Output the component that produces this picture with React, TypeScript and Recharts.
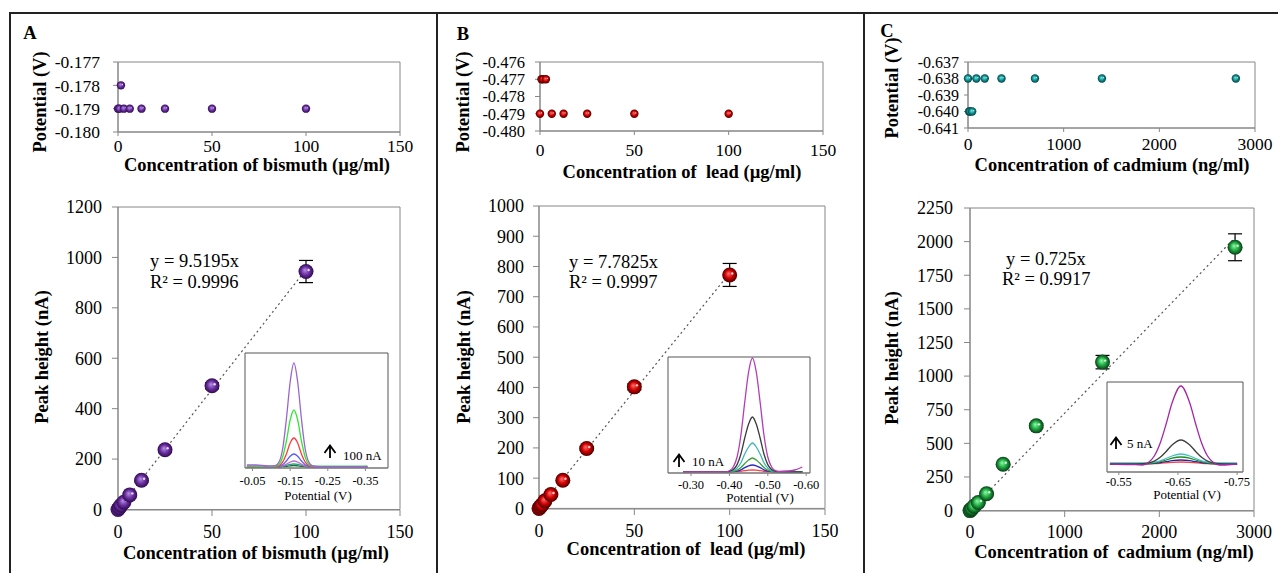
import React from "react";
import {
  ScatterChart,
  Scatter,
  XAxis,
  YAxis,
  ErrorBar,
  ReferenceLine,
  ReferenceArea,
  LineChart,
  Line,
} from "recharts";

const FONT = '"Liberation Serif", "Times New Roman", serif';
const AXIS = "#868686";

// ---- bismuth (A)
const biConc = [0, 0.78, 1.56, 3.125, 6.25, 12.5, 25, 50, 100];
const biPeak = [0, 8, 17, 29, 58, 116, 237, 491, 944];
const biErr = [2, 2, 3, 4, 5, 6, 8, 12, 44];
const biPot = [-0.179, -0.179, -0.178, -0.179, -0.179, -0.179, -0.179, -0.179, -0.179];
const biTrend = [[0, 0], [100, 952]];

// ---- lead (B)
const pbConc = [0, 0.78, 1.56, 3.125, 6.25, 12.5, 25, 50, 100];
const pbPeak = [0, 6, 12, 25, 46, 93, 198, 402, 772];
const pbErr = [2, 2, 3, 3, 4, 5, 6, 10, 38];
const pbPot = [-0.479, -0.477, -0.477, -0.477, -0.479, -0.479, -0.479, -0.479, -0.479];
const pbTrend = [[0, 0], [100, 778]];

// ---- cadmium (C)
const cdConc = [0, 10.9, 21.9, 43.75, 87.5, 175, 350, 700, 1400, 2800];
const cdPeak = [0, 8, 16, 32, 60, 125, 345, 630, 1104, 1958];
const cdErr = [3, 3, 4, 5, 6, 8, 10, 15, 50, 100];
const cdPot = [-0.638, -0.64, -0.64, -0.64, -0.638, -0.638, -0.638, -0.638, -0.638, -0.638];
const cdTrend = [[0, 0], [2800, 2030]];

// ---- inset voltammograms (A)
const aPot = [-0.035, -0.06, -0.09, -0.11, -0.12, -0.13, -0.14, -0.15, -0.16, -0.17, -0.18, -0.19, -0.2, -0.21, -0.23, -0.27, -0.31, -0.355];
const a1 = [2, 2, 1, 1.3, 4.6, 18, 48, 85, 104, 85, 48, 18, 4.6, 1, 0.4, 0.3, 0.3, 0.3];
const a2 = [0.8, 0.8, 0.6, 0.8, 2.5, 10, 26, 47, 57, 47, 26, 10, 2.5, 0.8, 0.5, 0.5, 0.5, 0.8];
const a3 = [0.3, 0.3, 0.3, 0.3, 1.3, 4.9, 13, 24, 29, 24, 13, 4.9, 1.3, 0.3, 0.3, 0.3, 0.3, 0.3];
const a4 = [0, 0, 0, 0, 0.6, 2.2, 6, 10.7, 13, 10.7, 6, 2.2, 0.6, 0, 0, 0, 0, 0];
const a5 = [0, 0, 0, 0, 0.3, 1, 2.8, 4.9, 6, 4.9, 2.8, 1, 0.3, 0, 0, 0, 0, 0];
const a6 = [0.5, 0.5, 0.5, 0.5, 0.6, 0.9, 1.7, 2.6, 3, 2.6, 1.7, 0.9, 0.6, 0.5, 0.5, 0.5, 0.5, 0.5];
const a7 = [0, 0, 0, 0, 0, 0.3, 0.7, 1.2, 1.5, 1.2, 0.7, 0.3, 0, 0, 0, 0, 0, 0];
const aColors = ["#9966cc", "#33e633", "#ff3b3b", "#5a5aff", "#c070c0", "#20a0a0", "#207020"];

// ---- inset voltammograms (B)
const bPot = [-0.28, -0.32, -0.36, -0.39, -0.4, -0.41, -0.42, -0.43, -0.44, -0.45, -0.46, -0.47, -0.48, -0.49, -0.5, -0.51, -0.52, -0.53, -0.55, -0.57, -0.59];
const b1 = [0, 0, 0, 0.2, 1.3, 5, 15, 37, 70, 100, 114, 100, 70, 37, 15, 5, 1.3, 0.5, 1, 2, 5];
const b2 = [0, 0, 0, 0, 0.6, 2.4, 7.4, 18, 34, 48, 55, 48, 34, 18, 7.4, 2.4, 0.6, 0, 0, 0, 0];
const b3 = [0, 0, 0, 0, 0.3, 1.3, 3.9, 9.3, 18, 25, 29, 25, 18, 9.3, 3.9, 1.3, 0.3, 0, 0, 0, 0];
const b4 = [0, 0, 0, 0, 0.2, 0.6, 1.9, 4.5, 8.5, 12, 14, 12, 8.5, 4.5, 1.9, 0.6, 0.2, 0, 0, 0, 0];
const b5 = [0, 0, 0, 0, 0.1, 0.3, 0.9, 2.2, 4.3, 6.2, 7, 6.2, 4.3, 2.2, 0.9, 0.3, 0.1, 0, 0, 0, 0];
const b6 = [0, 0, 0, 0, 0, 0.1, 0.3, 0.7, 1.3, 1.8, 2, 1.8, 1.3, 0.7, 0.3, 0.1, 0, 0, 0, 0, 0];
const bColors = ["#b43cb4", "#3a3a3a", "#3cb4b4", "#3ca03c", "#2828c8", "#ff4040"];

// ---- inset voltammograms (C)
const cPot = [-0.535, -0.57, -0.59, -0.6, -0.61, -0.62, -0.63, -0.64, -0.655, -0.67, -0.68, -0.69, -0.7, -0.71, -0.72, -0.74, -0.75];
const c1 = [0, -0.5, -1, 1.5, 8, 21, 40, 61, 78, 61, 40, 21, 8, 1.5, -1, -0.5, 0];
const c2 = [0, 0, 0.3, 1, 2.9, 6.7, 12.5, 19, 24, 19, 12.5, 6.7, 2.9, 1, 0.3, 0, 0];
const c3 = [1, 1, 1, 1.2, 1.8, 3.2, 5.5, 8, 10, 8, 5.5, 3.2, 1.8, 1.2, 1, 1, 1];
const c4 = [0, 0, 0.2, 0.5, 1.2, 2.4, 4, 5.8, 7, 5.8, 4, 2.4, 1.2, 0.5, 0.2, 0, 0];
const c5 = [0, 0, 0.1, 0.3, 0.7, 1.4, 2.3, 3.3, 4, 3.3, 2.3, 1.4, 0.7, 0.3, 0.1, 0, 0];
const c6 = [0, 0, 0, 0.1, 0.3, 0.7, 1.2, 1.7, 2, 1.7, 1.2, 0.7, 0.3, 0.1, 0, 0, 0];
const cColors = ["#a428a4", "#404040", "#40c0c0", "#208a20", "#2828a0", "#ff4040"];

type Box = { x0: number; x1: number; y0: number; y1: number };
const TOP = 12;
const RIGHT = 26;

const zip = (xs: number[], ys: number[], es?: number[]) =>
  xs.map((x, i) => ({ x, y: ys[i], err: es ? es[i] : 0 }));

const curves = (pot: number[], series: number[][]) =>
  pot.map((v, i) => {
    const row: Record<string, number> = { v };
    series.forEach((s, k) => (row["s" + k] = s[i]));
    return row;
  });

function Sphere({ cx, cy, r, grad }: any) {
  if (cx == null || cy == null) return null;
  return (
    <g>
      <circle cx={cx} cy={cy} r={r} fill={`url(#${grad})`} />
      <circle cx={cx + r * 0.35} cy={cy - r * 0.2} r={r * 0.16} fill="#fff" opacity={0.8} />
    </g>
  );
}

function Grad({ id, c }: { id: string; c: string[] }) {
  return (
    <radialGradient id={id} cx="50%" cy="50%" r="50%" fx="42%" fy="40%">
      <stop offset="0%" stopColor={c[0]} />
      <stop offset="55%" stopColor={c[1]} />
      <stop offset="100%" stopColor={c[2]} />
    </radialGradient>
  );
}

function TopChart(props: {
  b: Box; data: any[]; xDomain: number[]; xTicks: number[]; yDomain: number[]; yTicks: number[];
  ySize: number[]; xSize: number[]; grad: string; colors: string[]; yFont?: number;
}) {
  const { b, data, xDomain, xTicks, yDomain, yTicks, ySize, xSize, grad, colors, yFont = 17.5 } = props;
  const yw = 80, xh = 30;
  const tick = { fontFamily: FONT, fontSize: 17.5, fill: "#000" };
  return (
    <div style={{ position: "absolute", left: b.x0 - yw, top: b.y0 - TOP }}>
      <ScatterChart width={b.x1 - b.x0 + yw + RIGHT} height={b.y1 - b.y0 + TOP + xh}
        margin={{ top: TOP, right: RIGHT, left: 0, bottom: 0 }}>
        <defs><Grad id={grad} c={colors} /></defs>
        <XAxis type="number" dataKey="x" domain={xDomain} ticks={xTicks} interval={0} height={xh}
          stroke={AXIS} tick={tick} tickSize={xSize[0]} tickMargin={xSize[1]} />
        <YAxis type="number" dataKey="y" domain={yDomain} ticks={yTicks} interval={0} width={yw}
          stroke={AXIS} tick={{ ...tick, fontSize: yFont }} tickSize={ySize[0]} tickMargin={ySize[1]}
          tickFormatter={(v: number) => v.toFixed(3)} />
        <ReferenceArea x1={xDomain[0]} x2={xDomain[1]} y1={yDomain[0]} y2={yDomain[1]}
          fill="none" stroke={AXIS} strokeOpacity={1} />
        <Scatter data={data} isAnimationActive={false}
          shape={(s: any) => <Sphere cx={s.cx} cy={s.cy} r={4.2} grad={grad} />} />
      </ScatterChart>
    </div>
  );
}

function MainChart(props: {
  b: Box; data: any[]; trend: number[][]; xDomain: number[]; xTicks: number[]; yDomain: number[]; yTicks: number[];
  ySize: number[]; xSize: number[]; grad: string; colors: string[];
}) {
  const { b, data, trend, xDomain, xTicks, yDomain, yTicks, ySize, xSize, grad, colors } = props;
  const yw = 70, xh = 36;
  const tick = { fontFamily: FONT, fontSize: 18, fill: "#000" };
  return (
    <div style={{ position: "absolute", left: b.x0 - yw, top: b.y0 - TOP }}>
      <ScatterChart width={b.x1 - b.x0 + yw + RIGHT} height={b.y1 - b.y0 + TOP + xh}
        margin={{ top: TOP, right: RIGHT, left: 0, bottom: 0 }}>
        <defs><Grad id={grad} c={colors} /></defs>
        <XAxis type="number" dataKey="x" domain={xDomain} ticks={xTicks} interval={0} height={xh}
          stroke={AXIS} tick={tick} tickSize={xSize[0]} tickMargin={xSize[1]} />
        <YAxis type="number" dataKey="y" domain={yDomain} ticks={yTicks} interval={0} width={yw}
          stroke={AXIS} tick={tick} tickSize={ySize[0]} tickMargin={ySize[1]} />
        <ReferenceArea x1={xDomain[0]} x2={xDomain[1]} y1={yDomain[0]} y2={yDomain[1]}
          fill="none" stroke={AXIS} strokeOpacity={1} />
        <ReferenceLine segment={[{ x: trend[0][0], y: trend[0][1] }, { x: trend[1][0], y: trend[1][1] }]}
          stroke="#555" strokeWidth={1.2} strokeDasharray="2 3" />
        <Scatter data={data} isAnimationActive={false}
          shape={(s: any) => <Sphere cx={s.cx} cy={s.cy} r={7.5} grad={grad} />}>
          <ErrorBar dataKey="err" direction="y" width={7} stroke="#000" strokeWidth={1.2} isAnimationActive={false} />
        </Scatter>
      </ScatterChart>
    </div>
  );
}

function Inset(props: {
  b: Box; data: any[]; colors: string[]; xDomain: number[]; xTicks: number[]; yDomain: number[]; xSize: number[];
}) {
  const { b, data, colors, xDomain, xTicks, yDomain, xSize } = props;
  const xh = 20, side = 18, top = 4;
  const tick = { fontFamily: FONT, fontSize: 12.5, fill: "#000" };
  return (
    <div style={{ position: "absolute", left: b.x0 - side, top: b.y0 - top }}>
      <LineChart width={b.x1 - b.x0 + 2 * side} height={b.y1 - b.y0 + top + xh} data={data}
        margin={{ top, right: side, left: side, bottom: 0 }}>
        <XAxis type="number" dataKey="v" domain={xDomain} reversed ticks={xTicks} interval={0} height={xh}
          stroke={AXIS} tick={tick} tickSize={xSize[0]} tickMargin={xSize[1]}
          tickFormatter={(v: number) => v.toFixed(2)} />
        <YAxis hide type="number" domain={yDomain} allowDataOverflow />
        <ReferenceArea x1={xDomain[0]} x2={xDomain[1]} y1={yDomain[0]} y2={yDomain[1]}
          fill="#fff" fillOpacity={1} stroke="#555" strokeOpacity={1} />
        {colors.map((c, k) => colors.length - 1 - k).map((k) => (
          <Line key={k} type="monotone" dataKey={"s" + k} stroke={colors[k]} strokeWidth={1.3}
            dot={false} isAnimationActive={false} />
        ))}
      </LineChart>
    </div>
  );
}

function T({ x, y, children, size = 18.5, bold = false, rotate = false, start = false }: any) {
  const tr = rotate
    ? "translate(-50%,-50%) rotate(-90deg)"
    : start ? "translate(0,-50%)" : "translate(-50%,-50%)";
  return (
    <div style={{
      position: "absolute", left: x, top: y, transform: tr, whiteSpace: "pre", lineHeight: 1,
      fontFamily: FONT, fontSize: size, fontWeight: bold ? 700 : 400, color: "#000",
    }}>{children}</div>
  );
}

function Arrow({ x, y1, y2 }: { x: number; y1: number; y2: number }) {
  const h = y2 - y1;
  return (
    <svg style={{ position: "absolute", left: x - 7, top: y1 - 1 }} width={14} height={h + 2}>
      <path d={`M7 ${h + 1} V2 M1.5 9 L7 1.5 L12.5 9`} stroke="#000" strokeWidth={1.8} fill="none" />
    </svg>
  );
}

const Rule = ({ l, t, w, h }: any) => (
  <div style={{ position: "absolute", left: l, top: t, width: w, height: h, background: "#222" }} />
);

export default function App() {
  const gA = ["#b690e6", "#6a2fa0", "#2e0a4f"];
  const gB = ["#ff7070", "#d00000", "#4a0000"];
  const gC = ["#8affa8", "#1fa640", "#083a16"];
  const gCt = ["#70e8e8", "#109090", "#064040"];
  return (
    <div style={{ position: "absolute", left: 0, top: 0, width: 1278, height: 573, background: "#fff", overflow: "hidden" }}>
      <Rule l={9} t={12} w={1269} h={2} />
      <Rule l={9} t={12} w={2} h={561} />
      <Rule l={436} t={12} w={2} h={561} />
      <Rule l={863} t={12} w={2} h={561} />

      {/* Panel A */}
      <TopChart b={{ x0: 118, x1: 400, y0: 62, y1: 132 }} data={zip(biConc, biPot)}
        xDomain={[0, 150]} xTicks={[0, 50, 100, 150]} yDomain={[-0.18, -0.177]}
        yTicks={[-0.18, -0.179, -0.178, -0.177]} ySize={[5, 13]} xSize={[4, 4]} grad="gAt" colors={gA} />
      <MainChart b={{ x0: 118, x1: 400, y0: 207, y1: 510 }} data={zip(biConc, biPeak, biErr)} trend={biTrend}
        xDomain={[0, 150]} xTicks={[0, 50, 100, 150]} yDomain={[0, 1200]}
        yTicks={[0, 200, 400, 600, 800, 1000, 1200]} ySize={[6, 10]} xSize={[6, 9]} grad="gA" colors={gA} />
      <Inset b={{ x0: 245, x1: 388, y0: 353, y1: 468 }} data={curves(aPot, [a1, a2, a3, a4, a5, a6, a7])}
        colors={aColors} xDomain={[-0.41, -0.03]} xTicks={[-0.05, -0.15, -0.25, -0.35]} yDomain={[-1, 114]} xSize={[3, 5]} />
      <Arrow x={330} y1={445} y2={458} />
      <T x={343} y={455} size={13} start>100 nA</T>
      <T x={318} y={495} size={13}>Potential (V)</T>
      <T x={30} y={33} bold>A</T>
      <T x={40} y={102} rotate bold>Potential (V)</T>
      <T x={257} y={165} bold>Concentration of bismuth (µg/ml)</T>
      <T x={42} y={357} rotate bold>Peak height (nA)</T>
      <T x={256} y={553} bold>Concentration of bismuth (µg/ml)</T>
      <T x={150} y={261} start>y = 9.5195x</T>
      <T x={150} y={282} start>R² = 0.9996</T>

      {/* Panel B */}
      <TopChart b={{ x0: 540, x1: 823, y0: 62, y1: 131 }} data={zip(pbConc, pbPot)}
        xDomain={[0, 150]} xTicks={[0, 50, 100, 150]} yDomain={[-0.48, -0.476]}
        yTicks={[-0.48, -0.479, -0.478, -0.477, -0.476]} ySize={[5, 10]} xSize={[4, 9]} grad="gBt" colors={gB} yFont={16.5} />
      <MainChart b={{ x0: 539, x1: 825, y0: 206, y1: 509 }} data={zip(pbConc, pbPeak, pbErr)} trend={pbTrend}
        xDomain={[0, 150]} xTicks={[0, 50, 100, 150]} yDomain={[0, 1000]}
        yTicks={[0, 100, 200, 300, 400, 500, 600, 700, 800, 900, 1000]} ySize={[6, 9]} xSize={[6, 9]} grad="gB" colors={gB} />
      <Inset b={{ x0: 668, x1: 810, y0: 357, y1: 473 }} data={curves(bPot, [b1, b2, b3, b4, b5, b6])}
        colors={bColors} xDomain={[-0.61, -0.24]} xTicks={[-0.3, -0.4, -0.5, -0.6]} yDomain={[-1, 115]} xSize={[3, 4]} />
      <Arrow x={679} y1={454} y2={467} />
      <T x={692} y={461} size={13} start>10 nA</T>
      <T x={760} y={497} size={13}>Potential (V)</T>
      <T x={463} y={34} bold>B</T>
      <T x={463} y={102} rotate bold>Potential (V)</T>
      <T x={682} y={172} bold>Concentration of  lead (µg/ml)</T>
      <T x={464} y={357} rotate bold>Peak height (nA)</T>
      <T x={686} y={549} bold>Concentration of  lead (µg/ml)</T>
      <T x={569} y={262} start>y = 7.7825x</T>
      <T x={569} y={282} start>R² = 0.9997</T>

      {/* Panel C */}
      <TopChart b={{ x0: 968, x1: 1255, y0: 62, y1: 128 }} data={zip(cdConc, cdPot)}
        xDomain={[0, 3000]} xTicks={[0, 1000, 2000, 3000]} yDomain={[-0.641, -0.637]}
        yTicks={[-0.641, -0.64, -0.639, -0.638, -0.637]} ySize={[4, 5]} xSize={[4, 6]} grad="gCt" colors={gCt} yFont={16} />
      <MainChart b={{ x0: 970, x1: 1254, y0: 208, y1: 511 }} data={zip(cdConc, cdPeak, cdErr)} trend={cdTrend}
        xDomain={[0, 3000]} xTicks={[0, 1000, 2000, 3000]} yDomain={[0, 2250]}
        yTicks={[0, 250, 500, 750, 1000, 1250, 1500, 1750, 2000, 2250]} ySize={[6, 11]} xSize={[6, 8]} grad="gC" colors={gC} />
      <Inset b={{ x0: 1107, x1: 1243, y0: 382, y1: 472 }} data={curves(cPot, [c1, c2, c3, c4, c5, c6])}
        colors={cColors} xDomain={[-0.76, -0.53]} xTicks={[-0.55, -0.65, -0.75]} yDomain={[-8, 82]} xSize={[3, 2]} />
      <Arrow x={1116} y1={437} y2={449} />
      <T x={1127} y={443} size={13} start>5 nA</T>
      <T x={1187} y={494} size={13}>Potential (V)</T>
      <T x={887} y={31} bold>C</T>
      <T x={892} y={88} rotate bold>Potential (V)</T>
      <T x={1112} y={165} bold>Concentration of cadmium (ng/ml)</T>
      <T x={892} y={358} rotate bold>Peak height (nA)</T>
      <T x={1114} y={552} bold>Concentration of  cadmium (ng/ml)</T>
      <T x={1006} y={259} start>y = 0.725x</T>
      <T x={1002} y={279} start>R² = 0.9917</T>
    </div>
  );
}
